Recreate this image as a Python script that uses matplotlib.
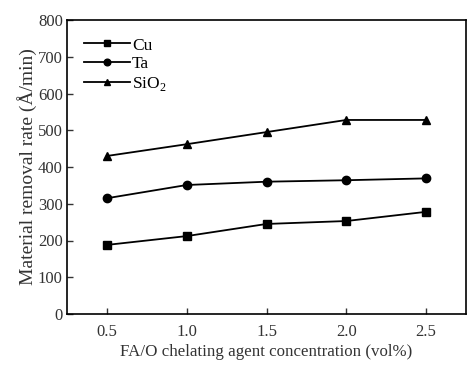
import matplotlib
matplotlib.use("Agg")
import matplotlib.pyplot as plt

conc = [0.5, 1.0, 1.5, 2.0, 2.5]
cu = [188, 212, 245, 253, 278]
ta = [315, 351, 360, 364, 369]
sio2 = [430, 462, 495, 528, 528]
yticks = [0, 100, 200, 300, 400, 500, 600, 700, 800]
xticks = [0.5, 1.0, 1.5, 2.0, 2.5]

plt.rcParams['font.family'] = ['Liberation Serif', 'DejaVu Serif']
plt.rcParams['mathtext.fontset'] = 'custom'
plt.rcParams['mathtext.rm'] = 'Liberation Serif'
fig = plt.figure(figsize=(4.75, 3.75), dpi=100)
ax = fig.add_axes([67/475, 1-314/375, (466-67)/475, (314-20)/375])

kw = dict(color='black', lw=1.3, ms=6)
ax.plot(conc, cu, marker='s', label='Cu', **kw)
ax.plot(conc, ta, marker='o', label='Ta', **kw)
ax.plot(conc, sio2, marker='^', label='SiO$_\\mathrm{2}$', **kw)

ax.set_xlim(0.25, 2.75)
ax.set_ylim(0, 800)
ax.set_xticks(xticks)
ax.set_xticklabels([f"{v:.1f}" for v in xticks])
ax.set_yticks(yticks)
ax.tick_params(direction='in', labelsize=12, length=4, width=1, colors='#333333')
ax.tick_params(axis='x', pad=7)
ax.tick_params(axis='y', pad=3)
for s in ax.spines.values():
    s.set_linewidth(1.2)
ax.set_xlabel('FA/O chelating agent concentration (vol%)', fontsize=12.2, color='#333333', labelpad=3)
ax.set_ylabel('Material removal rate (Å/min)', fontsize=14, color='#333333', labelpad=1)
leg = ax.legend(loc='upper left', frameon=False, fontsize=12.5, handlelength=2.6,
                borderaxespad=0.6, labelspacing=0.15, handletextpad=0.15, markerscale=0.8)
fig.savefig('out.png', dpi=100)
